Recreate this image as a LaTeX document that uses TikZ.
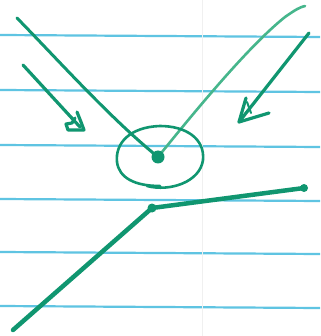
\documentclass[tikz,border=0pt]{standalone}
\usetikzlibrary{arrows.meta}
\definecolor{rule}{RGB}{95,196,226}
\definecolor{ink}{RGB}{16,150,112}
\definecolor{inklight}{RGB}{70,182,140}
\tikzset{
  ruleline/.style={draw=rule, line width=2.2pt},
  pen/.style={draw=ink, line width=3pt, line cap=round, line join=round},
  penlight/.style={draw=inklight, line width=2.6pt, line cap=round, line join=round},
  penthick/.style={draw=ink, line width=4.5pt, line cap=round, line join=round},
  inkdot/.style={fill=ink},
}
\begin{document}
\begin{tikzpicture}[x=1pt,y=-1pt]
\fill[white] (0,0) rectangle (320,336);
\useasboundingbox (0,0) rectangle (320,336);
% ruled lines
\foreach \y in {35,90,145,199,252,306}
  \draw[ruleline] (0,\y) -- (320,\y+2);
% faint margin
\draw[black!6, line width=0.8pt] (202,0) -- (202,336);
% named points
\coordinate (dot) at (158,157);
\coordinate (lstart) at (17,18);
\coordinate (rend) at (305,6);
\coordinate (sa1) at (23,65);
\coordinate (sa2) at (80,127);
\coordinate (ra1) at (309,33);
\coordinate (ra2) at (239,122);
\coordinate (b0) at (13,330);
\coordinate (b1) at (152,208);
\coordinate (b2) at (304,188);
% V lines
\draw[pen] (lstart) .. controls (60,62) and (110,118) .. (dot);
\draw[penlight] (dot) .. controls (200,105) and (250,45) .. (285,17) .. controls (295,10) and (300,7) .. (rend);
\fill[inkdot] (dot) circle (6.5);
% circle round the dot
\draw[pen, line width=2.6pt] (147,186) .. controls (170,192) and (200,182) .. (203,160)
  .. controls (205,138) and (185,126) .. (160,126)
  .. controls (130,127) and (115,143) .. (117,162)
  .. controls (119,178) and (135,186) .. (160,186);
% small left arrow
\draw[pen, line width=3.2pt] (sa1) -- (sa2);
\draw[pen, line width=3.2pt] (77,112) -- (81,122) -- (84,130) -- (68,130) -- (66,124) -- (72,123) -- (75,118);
% right arrow
\draw[pen, line width=3.2pt] (ra1) -- (ra2);
\draw[pen, line width=3.2pt] (246,98) -- (239,122) -- (269,113);
\draw[pen, line width=2pt] (247,102) -- (251,113);
% bottom polyline
\draw[penthick] (b0) -- (b1) -- (b2);
\fill[inkdot] (b1) circle (4.5);
\fill[inkdot] (b2) circle (4);
\end{tikzpicture}
\end{document}
